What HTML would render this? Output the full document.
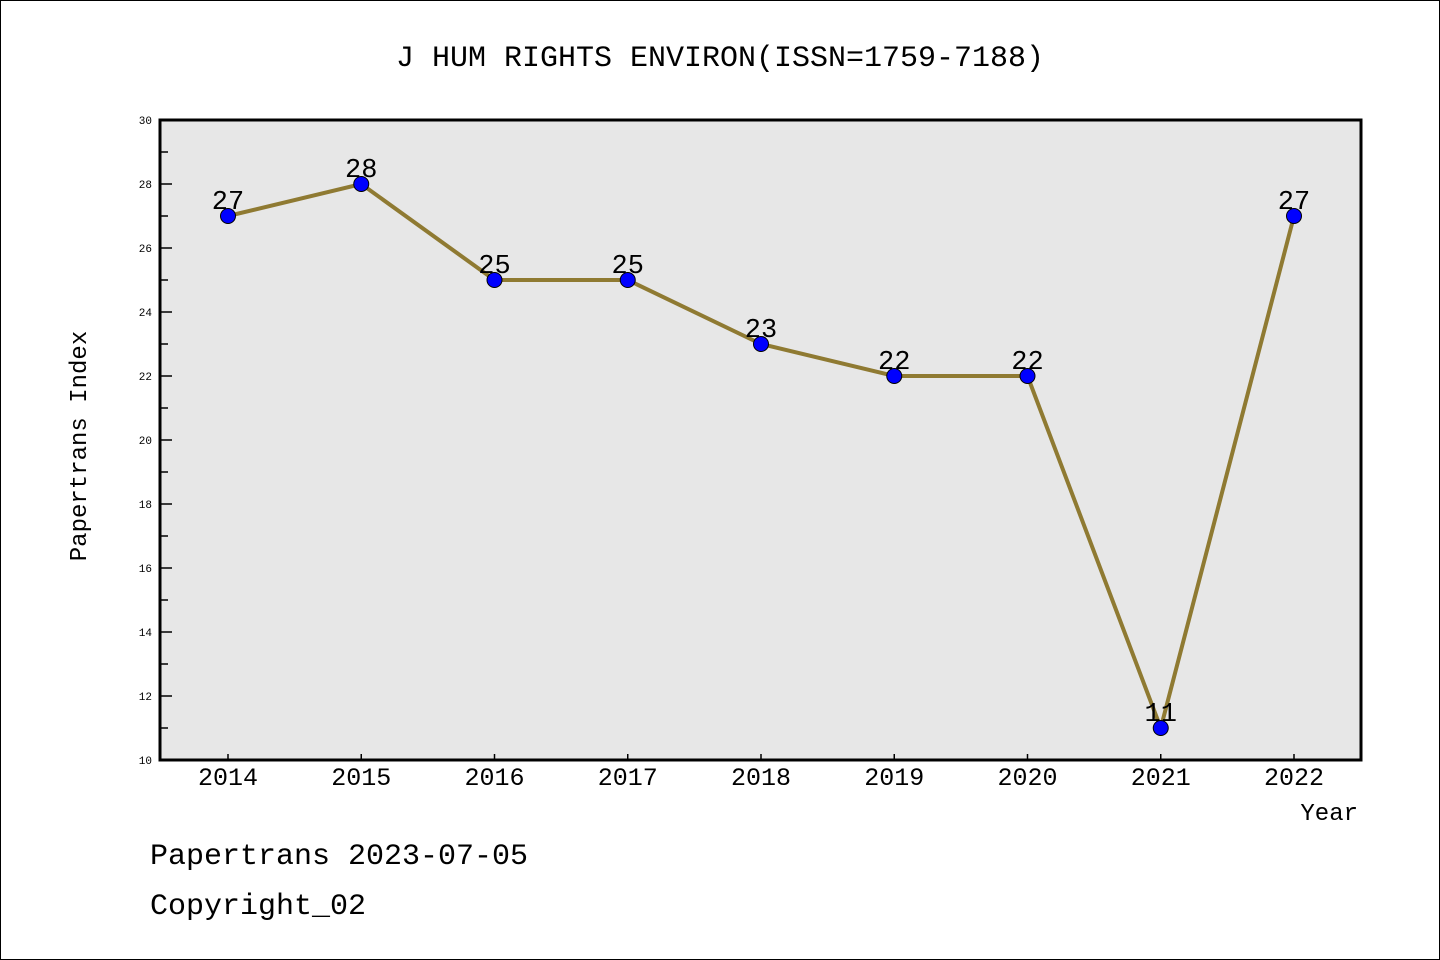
<!DOCTYPE html>
<html><head><meta charset="utf-8"><style>
body{margin:0;background:#fff}
svg{display:block}
text{font-family:"Liberation Mono","DejaVu Sans Mono",monospace}
</style></head><body>
<svg id="chart" width="1440" height="960" xmlns="http://www.w3.org/2000/svg">
<rect x="0.5" y="0.5" width="1439" height="959" fill="#fff" stroke="#000"/>
<text x="720" y="66" text-anchor="middle" font-size="30">J HUM RIGHTS ENVIRON(ISSN=1759-7188)</text>
<rect x="160" y="120" width="1201" height="640" fill="#e7e7e7"/>
<g id="axes"></g>
<g id="series"></g>
<rect x="160" y="120" width="1201" height="640" fill="none" stroke="#000" stroke-width="3"/>
<text x="86" y="446" font-size="24" text-anchor="middle" transform="rotate(-90 86 446)">Papertrans Index</text>
<text x="1358" y="820" font-size="24" text-anchor="end">Year</text>
<text x="150" y="864" font-size="30">Papertrans 2023-07-05</text>
<text x="150" y="914" font-size="30">Copyright_02</text>
</svg>
<script>
const years=["2014","2015","2016","2017","2018","2019","2020","2021","2022"];
const values=[27,28,25,25,23,22,22,11,27];
const yTicks=[10,12,14,16,18,20,22,24,26,28,30];
const NS="http://www.w3.org/2000/svg";
const x=i=>228+i*(1294-228)/(years.length-1);
const y=v=>760-(v-10)*32;
function mk(t,a,p){const e=document.createElementNS(NS,t);for(const k in a)e.setAttribute(k,a[k]);p.appendChild(e);return e;}
const ax=document.getElementById('axes'),se=document.getElementById('series');
yTicks.forEach(v=>{
 const l=mk('line',{x1:160,x2:172,y1:y(v),y2:y(v),stroke:'#000','stroke-width':1.5},ax);
 
 
 const t=mk('text',{x:152,y:y(v)+4,'text-anchor':'end','font-size':11,'font-family':'Liberation Sans, sans-serif'},ax);
 t.textContent=v;
 
 
 if(v<30){const m=mk('line',{x1:160,x2:168,y1:y(v+1),y2:y(v+1),stroke:'#000','stroke-width':1.5},ax);
 
 }
});
years.forEach((yr,i)=>{
 const l=mk('line',{x1:x(i),x2:x(i),y1:760,y2:754,stroke:'#000','stroke-width':1.5},ax);
 
 
 const t=mk('text',{x:x(i),y:785,'text-anchor':'middle','font-size':25,'font-family':'Liberation Sans, sans-serif'},ax);
 t.textContent=yr;
 
 
});
const pl=mk('polyline',{points:values.map((v,i)=>x(i)+','+y(v)).join(' '),fill:'none',stroke:'#8f7a32','stroke-width':4},se);


values.forEach((v,i)=>{
 const c=mk('circle',{cx:x(i),cy:y(v),r:7.5,fill:'#0000ff',stroke:'#000','stroke-width':1},se);
 
 
 const t=mk('text',{x:x(i),y:y(v)-7,'text-anchor':'middle','font-size':27,'font-family':'Liberation Sans, sans-serif'},se);
 t.textContent=v;
 
 
});
</script>
</body></html>
